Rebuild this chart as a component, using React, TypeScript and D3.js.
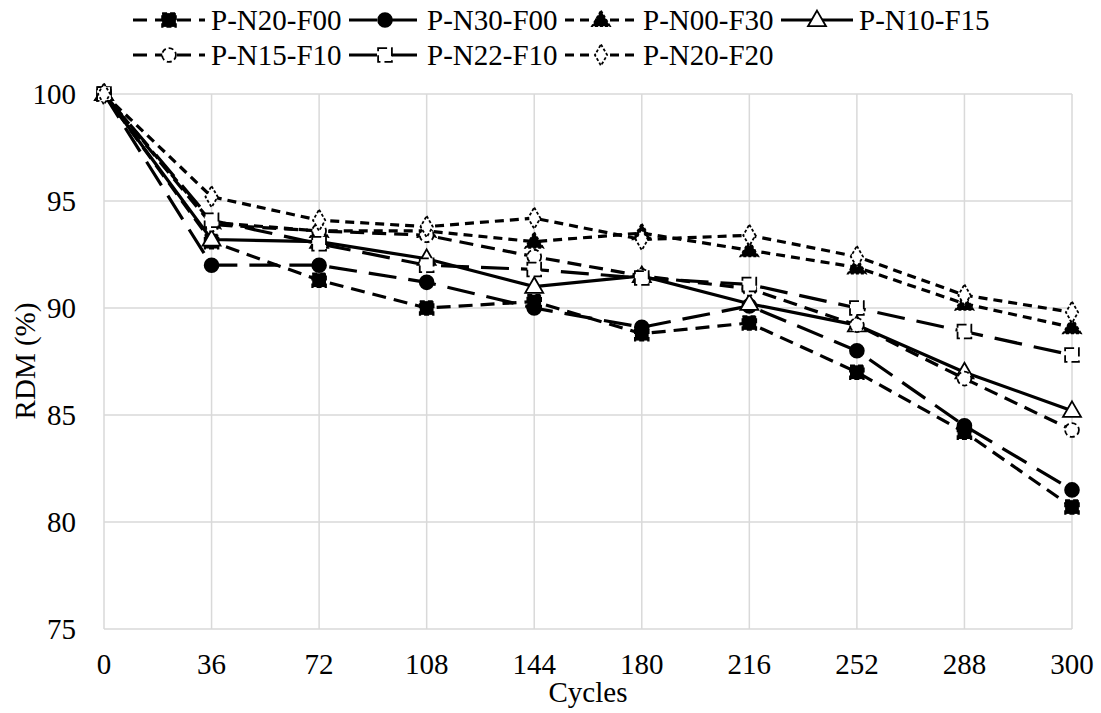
import React from "react";
import * as d3 from "d3";

const cycles = ["0", "36", "72", "108", "144", "180", "216", "252", "288", "300"];
const yTicks = [75, 80, 85, 90, 95, 100];

const pN20F00 = [100, 93.1, 91.3, 90.0, 90.3, 88.8, 89.3, 87.0, 84.2, 80.7];
const pN30F00 = [100, 92.0, 92.0, 91.2, 90.0, 89.1, 90.1, 88.0, 84.5, 81.5];
const pN00F30 = [100, 94.0, 93.6, 93.6, 93.1, 93.5, 92.7, 91.9, 90.2, 89.1];
const pN10F15 = [100, 93.2, 93.1, 92.3, 91.0, 91.5, 90.2, 89.2, 87.0, 85.2];
const pN15F10 = [100, 93.9, 93.6, 93.4, 92.4, 91.5, 90.9, 89.2, 86.7, 84.3];
const pN22F10 = [100, 94.1, 93.0, 92.0, 91.8, 91.4, 91.1, 90.0, 88.9, 87.8];
const pN20F20 = [100, 95.2, 94.1, 93.8, 94.2, 93.2, 93.4, 92.4, 90.6, 89.8];

type Series = { name: string; values: number[]; dash: string; mdash: string; marker: string; fill: string };

const series: Series[] = [
  { name: "P-N20-F00", values: pN20F00, dash: "14,8", mdash: "5,3", marker: "square", fill: "#000" },
  { name: "P-N30-F00", values: pN30F00, dash: "28,12", mdash: "none", marker: "circle", fill: "#000" },
  { name: "P-N00-F30", values: pN00F30, dash: "9,6", mdash: "3,2", marker: "triangle", fill: "#000" },
  { name: "P-N10-F15", values: pN10F15, dash: "none", mdash: "none", marker: "triangle", fill: "#fff" },
  { name: "P-N15-F10", values: pN15F10, dash: "14,8", mdash: "5,3", marker: "circle", fill: "#fff" },
  { name: "P-N22-F10", values: pN22F10, dash: "28,12", mdash: "9,4", marker: "square", fill: "#fff" },
  { name: "P-N20-F20", values: pN20F20, dash: "9,6", mdash: "3,2", marker: "diamond", fill: "#fff" },
];

const W = 1101;
const H = 713;
const FF = "Liberation Serif";
const FS = 29;

const symbolFor = (m: string) => {
  if (m === "square") return d3.symbol(d3.symbolSquare, 190)();
  if (m === "circle") return d3.symbol(d3.symbolCircle, 150)();
  if (m === "triangle") return d3.symbol(d3.symbolTriangle, 140)();
  return d3.symbol(d3.symbolDiamond, 130)();
};

function Marker({ s, x, y }: { s: Series; x: number; y: number }) {
  return (
    <path
      d={symbolFor(s.marker) || ""}
      transform={`translate(${x},${y})${s.marker === "triangle" ? " translate(0,1)" : ""}`}
      fill={s.fill}
      stroke="#000"
      strokeWidth={1.8}
      strokeDasharray={s.mdash}
    />
  );
}

function T(props: any) {
  const { children, ...rest } = props;
  return (
    <text fontFamily={FF} fontSize={FS} fill="#000" style={{ fontFamily: `"${FF}"`, fontSize: FS }} {...rest}>
      {children}
    </text>
  );
}

export default function App() {
  const x = d3.scalePoint<string>().domain(cycles).range([104, 1072]);
  const y = d3.scaleLinear().domain([75, 100]).range([629, 94]);
  const line = d3
    .line<number>()
    .x((_, i) => x(cycles[i]) as number)
    .y((v) => y(v));

  const legendX0 = 133;
  const colW = 216;
  const rowY = [20, 55];

  return (
    <svg width={W} height={H} fontFamily={FF} style={{ position: "absolute", left: 0, top: 0 }}>
      <rect x={0} y={0} width={W} height={H} fill="#fff" />
      {yTicks.map((t) => (
        <line key={"h" + t} x1={104} x2={1072} y1={y(t)} y2={y(t)} stroke="#d9d9d9" strokeWidth={1.5} />
      ))}
      {cycles.map((c) => (
        <line key={"v" + c} x1={x(c)} x2={x(c)} y1={y(100)} y2={y(75)} stroke="#d9d9d9" strokeWidth={1.5} />
      ))}
      {yTicks.map((t) => (
        <T key={"yl" + t} x={76} y={y(t)} dy="0.35em" textAnchor="end">
          {t}
        </T>
      ))}
      {cycles.map((c) => (
        <T key={"xl" + c} x={x(c)} y={664} dy="0.35em" textAnchor="middle">
          {c}
        </T>
      ))}
      <T x={588} y={692} dy="0.35em" textAnchor="middle">
        Cycles
      </T>
      <T transform={`translate(25,361) rotate(-90)`} dy="0.35em" textAnchor="middle">
        RDM (%)
      </T>
      {series.map((s) => (
        <path key={"l" + s.name} d={line(s.values) || ""} fill="none" stroke="#000" strokeWidth={3.2} strokeDasharray={s.dash} />
      ))}
      {series.map((s) => (
        <g key={"m" + s.name}>
          {s.values.map((v, i) => (
            <Marker key={i} s={s} x={x(cycles[i]) as number} y={y(v)} />
          ))}
        </g>
      ))}
      {series.map((s, i) => {
        const col = i < 4 ? i : i - 4;
        const row = i < 4 ? 0 : 1;
        const lx = legendX0 + col * colW;
        const ly = rowY[row];
        return (
          <g key={"lg" + s.name}>
            <line x1={lx} x2={lx + 72} y1={ly} y2={ly} stroke="#000" strokeWidth={3.2} strokeDasharray={s.dash} />
            <Marker s={s} x={lx + 36} y={ly} />
            <T x={lx + 78} y={ly} dy="0.35em">
              {s.name}
            </T>
          </g>
        );
      })}
    </svg>
  );
}
